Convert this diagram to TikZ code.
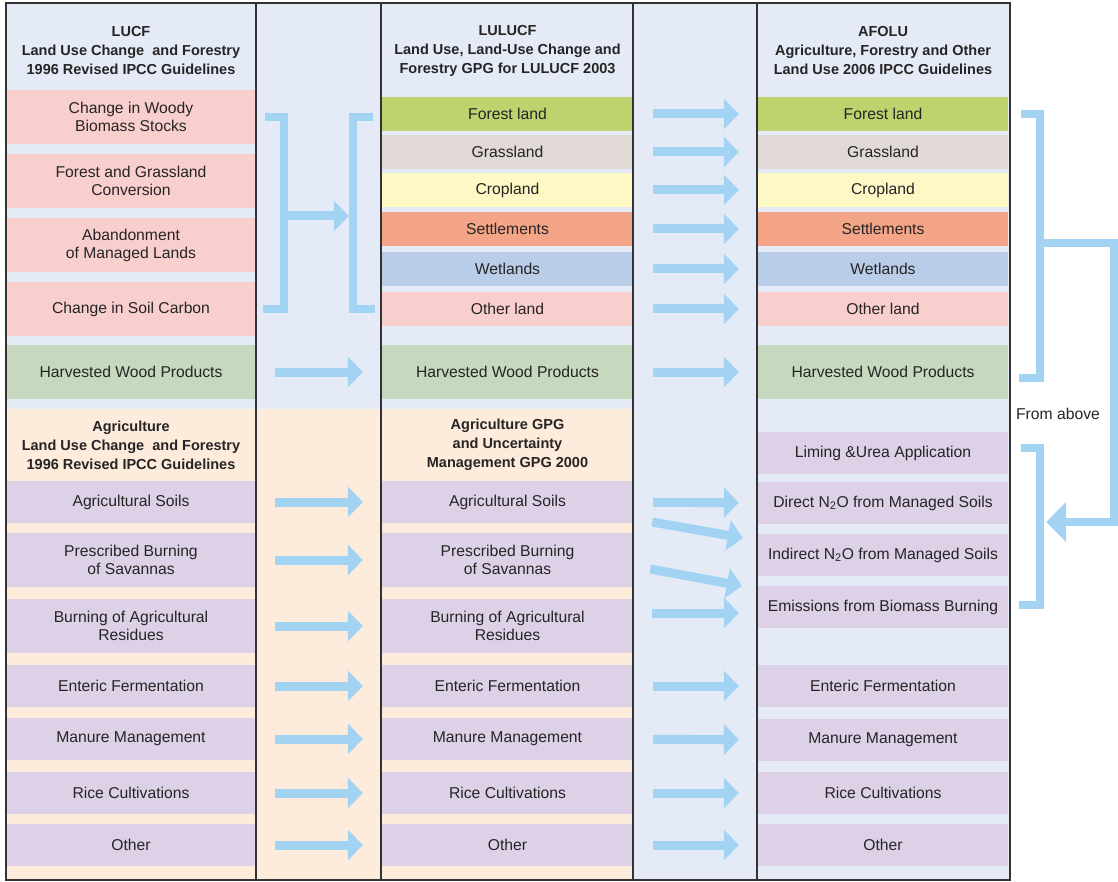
\documentclass[tikz,border=0pt]{standalone}
\usepackage{fontspec}
\setmainfont{Liberation Sans}
\usepackage{tikz}
\usetikzlibrary{arrows.meta,calc}
\definecolor{panel}{HTML}{E4EAF6}
\definecolor{peach}{HTML}{FDEBDB}
\definecolor{pinkc}{HTML}{F9CFCD}
\definecolor{wood}{HTML}{C6D9BF}
\definecolor{forest}{HTML}{BCD36E}
\definecolor{grass}{HTML}{E1D9D6}
\definecolor{crop}{HTML}{FEF8C5}
\definecolor{settle}{HTML}{F4A587}
\definecolor{wet}{HTML}{B9CDE9}
\definecolor{lilac}{HTML}{DDD1E8}
\definecolor{arrowblue}{HTML}{A2D3F3}
\definecolor{ink}{HTML}{262425}
\definecolor{rulec}{HTML}{333333}
\newcommand{\cellfont}{\fontsize{15.7}{18}\selectfont}
\newcommand{\headfont}{\fontsize{14.5}{19}\selectfont\bfseries}
\tikzstyle{cell}=[inner sep=0pt, align=center, text=ink, font=\cellfont]
\tikzstyle{lcol}=[cell, minimum width=248pt]
\tikzstyle{mcol}=[cell, minimum width=251pt]
\tikzstyle{rcol}=[cell, minimum width=250pt]
\tikzstyle{tall}=[minimum height=54pt]
\tikzstyle{band}=[minimum height=42pt]
\tikzstyle{slim}=[minimum height=34pt]
\tikzstyle{head}=[inner sep=0pt, align=center, text=ink, font=\headfont]
\tikzstyle{rule}=[draw=rulec, line width=2pt]
\tikzstyle{flow}=[draw=arrowblue, line width=9pt, -{Triangle[length=15pt,width=30pt]}]
\tikzstyle{link}=[flow, shorten <=20pt, shorten >=19pt]
\tikzstyle{bigflow}=[draw=arrowblue, line width=8pt, miter limit=4, -{Triangle[length=20pt,width=39pt]}]
\tikzstyle{bracket}=[draw=arrowblue, line width=8pt, line join=miter]

\begin{document}
\begin{tikzpicture}[x=1pt,y=-1pt]
	\useasboundingbox (0,0) rectangle (1118,882);
	\fill[panel] (6,3) rectangle (1010,880);
	\fill[peach] (6,409) rectangle (633,880);
%
	\node[head] (h1) at (131,51) {LUCF\\Land Use Change~ and Forestry\\1996 Revised IPCC Guidelines};
	\node[head] (h2) at (507.5,51) {LULUCF\\Land Use, Land-Use Change and\\Forestry GPG for LULUCF 2003};
	\node[head] (h3) at (883,51) {AFOLU\\Agriculture, Forestry and Other\\Land Use 2006 IPCC Guidelines};
	\node[head] (h4) at (131,445) {Agriculture\\Land Use Change~ and Forestry\\1996 Revised IPCC Guidelines};
	\node[head] (h5) at (507.5,445) {Agriculture GPG\\and Uncertainty\\Management GPG 2000};
%
	\node[lcol, tall, fill=pinkc] (lucf1) at (131,117) {Change in Woody\\Biomass Stocks};
	\node[lcol, tall, fill=pinkc] (lucf2) at (131,181) {Forest and Grassland\\Conversion};
	\node[lcol, tall, fill=pinkc] (lucf3) at (131,245) {Abandonment\\of Managed Lands};
	\node[lcol, tall, fill=pinkc] (lucf4) at (131,309) {Change in Soil Carbon};
	\node[lcol, tall, fill=wood] (lucf5) at (131,372) {Harvested Wood Products};
%
	\node[mcol, slim, fill=forest] (lulu1) at (507.5,114) {Forest land};
	\node[mcol, slim, fill=grass] (lulu2) at (507.5,152) {Grassland};
	\node[mcol, slim, fill=crop] (lulu3) at (507.5,190) {Cropland};
	\node[mcol, slim, fill=settle] (lulu4) at (507.5,229) {Settlements};
	\node[mcol, slim, fill=wet] (lulu5) at (507.5,269) {Wetlands};
	\node[mcol, slim, fill=pinkc] (lulu6) at (507.5,309) {Other land};
	\node[mcol, tall, fill=wood] (lulu7) at (507.5,372) {Harvested Wood Products};
%
	\node[rcol, slim, fill=forest] (afolu1) at (883,114) {Forest land};
	\node[rcol, slim, fill=grass] (afolu2) at (883,152) {Grassland};
	\node[rcol, slim, fill=crop] (afolu3) at (883,190) {Cropland};
	\node[rcol, slim, fill=settle] (afolu4) at (883,229) {Settlements};
	\node[rcol, slim, fill=wet] (afolu5) at (883,269) {Wetlands};
	\node[rcol, slim, fill=pinkc] (afolu6) at (883,309) {Other land};
	\node[rcol, tall, fill=wood] (afolu7) at (883,372) {Harvested Wood Products};
%
	\node[lcol, band, fill=lilac] (agr1) at (131,502) {Agricultural Soils};
	\node[lcol, tall, fill=lilac] (agr2) at (131,560) {Prescribed Burning\\of Savannas};
	\node[lcol, tall, fill=lilac] (agr3) at (131,626) {Burning of Agricultural\\Residues};
	\node[lcol, band, fill=lilac] (agr4) at (131,686) {Enteric Fermentation};
	\node[lcol, band, fill=lilac] (agr5) at (131,739) {Manure Management};
	\node[lcol, band, fill=lilac] (agr6) at (131,793) {Rice Cultivations};
	\node[lcol, band, fill=lilac] (agr7) at (131,845) {Other};
%
	\node[mcol, band, fill=lilac] (gpg1) at (507.5,502) {Agricultural Soils};
	\node[mcol, tall, fill=lilac] (gpg2) at (507.5,560) {Prescribed Burning\\of Savannas};
	\node[mcol, tall, fill=lilac] (gpg3) at (507.5,626) {Burning of Agricultural\\Residues};
	\node[mcol, band, fill=lilac] (gpg4) at (507.5,686) {Enteric Fermentation};
	\node[mcol, band, fill=lilac] (gpg5) at (507.5,739) {Manure Management};
	\node[mcol, band, fill=lilac] (gpg6) at (507.5,793) {Rice Cultivations};
	\node[mcol, band, fill=lilac] (gpg7) at (507.5,845) {Other};
%
	\node[rcol, band, fill=lilac] (afa1) at (883,453) {Liming \&Urea Application};
	\node[rcol, band, fill=lilac] (afa2) at (883,503) {Direct N\textsubscript{2}O from Managed Soils};
	\node[rcol, band, fill=lilac] (afa3) at (883,555) {Indirect N\textsubscript{2}O from Managed Soils};
	\node[rcol, band, fill=lilac] (afa4) at (883,607) {Emissions from Biomass Burning};
	\node[rcol, band, fill=lilac] (afa5) at (883,686) {Enteric Fermentation};
	\node[rcol, band, fill=lilac] (afa6) at (883,740) {Manure Management};
	\node[rcol, band, fill=lilac] (afa7) at (883,793) {Rice Cultivations};
	\node[rcol, band, fill=lilac] (afa8) at (883,845) {Other};
%
	\node[cell] (above) at (1058,414) {From above};
%
	\draw[rule] (6,3) rectangle (1010,880);
	\draw[rule] (256,3) -- (256,880);
	\draw[rule] (381,3) -- (381,880);
	\draw[rule] (633,3) -- (633,880);
	\draw[rule] (757,3) -- (757,880);
%
	\draw[bracket] ($(lucf1.east)+(10,0)$) -| ($(lucf4.east)+(29,0)$) -- ($(lucf4.east)+(8,0)$);
	\draw[bracket] ($(lulu1.west)+(-9,3)$) -| ($(lulu6.west)+(-29,0)$) -- ($(lulu6.west)+(-7,0)$);
	\coordinate (jl) at ($(lucf1.east)!0.5!(lucf4.east)+(29,3)$);
	\coordinate (jr) at ($(lulu1.west)!0.5!(lulu6.west)+(-33,0)$);
	\draw[flow] (jl) -- (jl -| jr);
%
	\draw[link] (lucf5) -- (lulu7);
	\draw[link] (agr1) -- (gpg1);
	\draw[link] (agr2) -- (gpg2);
	\draw[link] (agr3) -- (gpg3);
	\draw[link] (agr4) -- (gpg4);
	\draw[link] (agr5) -- (gpg5);
	\draw[link] (agr6) -- (gpg6);
	\draw[link] (agr7) -- (gpg7);
%
	\draw[link] (lulu1) -- (afolu1);
	\draw[link] (lulu2) -- (afolu2);
	\draw[link] (lulu3) -- (afolu3);
	\draw[link] (lulu4) -- (afolu4);
	\draw[link] (lulu5) -- (afolu5);
	\draw[link] (lulu6) -- (afolu6);
	\draw[link] (lulu7) -- (afolu7);
%
	\draw[link] (gpg1) -- (afa2);
	\draw[flow] ($(gpg1.east)+(19,20)$) -- ($(afa3.west)+(-15,-17)$);
	\draw[flow] ($(gpg2.east)+(17,9)$) -- ($(afa4.west)+(-16,-21)$);
	\draw[flow] ($(gpg3.east)+(19,-13)$) -- ($(afa4.west)+(-19,6)$);
	\draw[link] (gpg4) -- (afa5);
	\draw[link] (gpg5) -- (afa6);
	\draw[link] (gpg6) -- (afa7);
	\draw[link] (gpg7) -- (afa8);
%
	\draw[bracket] ($(afolu1.east)+(13,0)$) -| ($(afolu7.east)+(32,6)$) -- ($(afolu7.east)+(11,6)$);
	\draw[bracket] ($(afa1.east)+(13,-5)$) -| ($(afa4.east)+(32,-2)$) -- ($(afa4.east)+(11,-2)$);
	\coordinate (up) at ($(afolu1.east)!0.5!(afolu7.east)+(32,0)$);
	\coordinate (dn) at ($(afa1.east)!0.5!(afa4.east)+(38,-8)$);
	\coordinate (edge) at (1114,0);
	\draw[bigflow] (up) -| (edge |- dn) -- (dn);
\end{tikzpicture}
\end{document}
